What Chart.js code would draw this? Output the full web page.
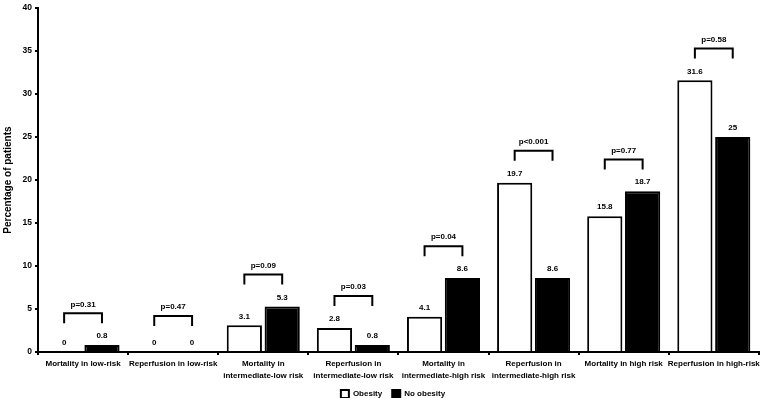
<!DOCTYPE html>
<html>
<head>
<meta charset="utf-8">
<script src="https://cdn.jsdelivr.net/npm/chart.js@4/dist/chart.umd.min.js"></script>
<style>
  html, body { margin: 0; padding: 0; background: #fff; }
  #wrap { width: 763px; height: 398px; position: relative; }
</style>
</head>
<body>
<div id="wrap"><canvas id="chart"></canvas></div>
<script>
// categories (two-line labels where the original wraps)
const categories = [
  ['Mortality in low-risk'],
  ['Reperfusion in low-risk'],
  ['Mortality in', 'intermediate-low risk'],
  ['Reperfusion in', 'intermediate-low risk'],
  ['Mortality in', 'intermediate-high risk'],
  ['Reperfusion in', 'intermediate-high risk'],
  ['Mortality in high risk'],
  ['Reperfusion in high-risk']
];
const obesity   = [0, 0, 3.1, 2.8, 4.1, 19.7, 15.8, 31.6];
const noObesity = [0.8, 0, 5.3, 0.8, 8.6, 8.6, 18.7, 25];
const pValues   = ['p=0.31', 'p=0.47', 'p=0.09', 'p=0.03', 'p=0.04', 'p<0.001', 'p=0.77', 'p=0.58'];

const FONT = '"Liberation Sans", Arial, sans-serif';

// value labels + p-value brackets
const annotations = {
  id: 'annotations',
  afterLayout(chart) {
    // legend in the original sits a little right of the canvas centre
    chart.legend.left += 13;
    chart.legend.right += 13;
  },
  afterDatasetsDraw(chart) {
    const ctx = chart.ctx;
    const y = chart.scales.y;
    const m0 = chart.getDatasetMeta(0);
    const m1 = chart.getDatasetMeta(1);
    ctx.save();
    ctx.fillStyle = '#000';
    ctx.strokeStyle = '#000';
    ctx.font = 'bold 8px ' + FONT;
    ctx.textAlign = 'center';
    ctx.textBaseline = 'middle';
    [m0, m1].forEach((meta, d) => {
      const vals = d === 0 ? obesity : noObesity;
      meta.data.forEach((bar, i) => {
        ctx.fillText(String(vals[i]), bar.x, y.getPixelForValue(vals[i]) - 9);
      });
    });
    categories.forEach((c, i) => {
      const top = Math.max(obesity[i], noObesity[i], 0.5) + 3.7;
      const yt = y.getPixelForValue(top);
      const x0 = m0.data[i].x, x1 = m1.data[i].x;
      ctx.lineWidth = 2;
      ctx.beginPath();
      ctx.moveTo(x0, yt + 10);
      ctx.lineTo(x0, yt);
      ctx.lineTo(x1, yt);
      ctx.lineTo(x1, yt + 10);
      ctx.stroke();
      ctx.fillText(pValues[i], (x0 + x1) / 2, yt - 9);
    });
    ctx.restore();
  }
};

new Chart(document.getElementById('chart'), {
  type: 'bar',
  data: {
    labels: categories,
    datasets: [
      { label: 'Obesity', data: obesity, backgroundColor: '#fff', borderColor: '#000', borderWidth: 2 },
      { label: 'No obesity', data: noObesity, backgroundColor: '#000', borderColor: '#000', borderWidth: 2 }
    ]
  },
  options: {
    responsive: true,
    maintainAspectRatio: false,
    animation: false,
    datasets: { bar: { categoryPercentage: 0.84, barPercentage: 0.93 } },
    // legend reserves 10px below itself; pull it down
    layout: { padding: { top: 5, right: 3, left: 0, bottom: -10 } },
    plugins: {
      tooltip: { enabled: false },
      legend: {
        position: 'bottom',
        labels: {
          boxWidth: 8, boxHeight: 8, padding: 10, color: '#000',
          font: { family: FONT, size: 8, weight: 'bold' }
        }
      }
    },
    scales: {
      x: {
        grid: { display: true, drawOnChartArea: false, drawTicks: true, tickLength: 3, color: '#000', lineWidth: 2, offset: true },
        border: { display: true, color: '#000', width: 2 },
        ticks: { color: '#000', padding: 3, maxRotation: 0, autoSkip: false, font: { family: FONT, size: 8, weight: 'bold', lineHeight: 1.5 } },
        afterFit(s) { s.height = 28; }
      },
      y: {
        min: 0, max: 40,
        ticks: { stepSize: 5, color: '#000', padding: 3, font: { family: FONT, size: 8.5, weight: 'bold' } },
        grid: { display: true, drawOnChartArea: false, drawTicks: true, tickLength: 3, color: '#000', lineWidth: 2 },
        border: { display: true, color: '#000', width: 2 },
        title: { display: true, text: 'Percentage of patients', color: '#000', padding: 2, font: { family: FONT, size: 10, weight: 'bold' } },
        afterFit(s) { s.width = 38; }
      }
    }
  },
  plugins: [annotations]
});
</script>
</body>
</html>
